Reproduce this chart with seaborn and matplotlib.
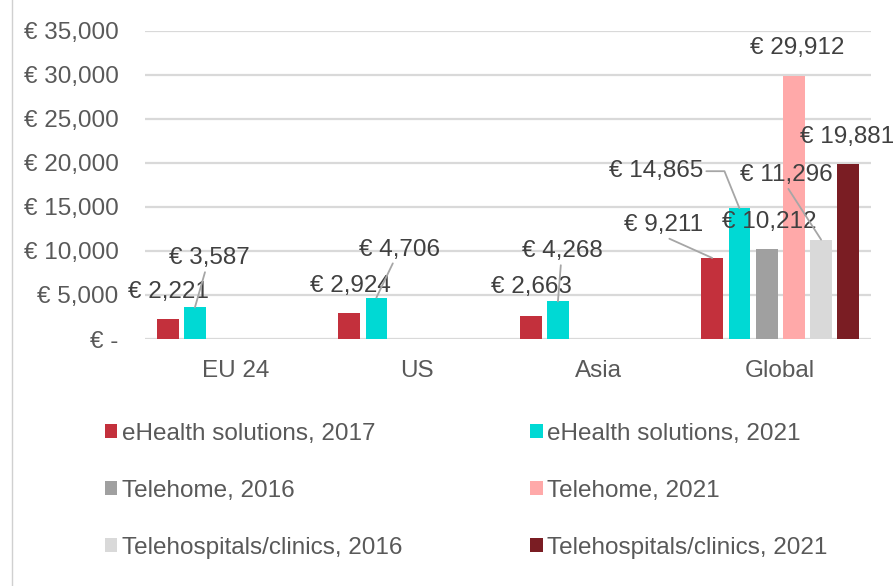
import pandas as pd
import seaborn as sns
import matplotlib.pyplot as plt
from matplotlib.ticker import FuncFormatter
from matplotlib.lines import Line2D

plt.rcParams['font.family'] = ['Liberation Sans', 'DejaVu Sans']

regions = ['EU 24', 'US', 'Asia', 'Global']
series = ['eHealth solutions, 2017', 'eHealth solutions, 2021', 'Telehome, 2016',
          'Telehome, 2021', 'Telehospitals/clinics, 2016', 'Telehospitals/clinics, 2021']
ehealth_2017 = [2221, 2924, 2663, 9211]
ehealth_2021 = [3587, 4706, 4268, 14865]
telehome_2016 = [None, None, None, 10212]
telehome_2021 = [None, None, None, 29912]
telehosp_2016 = [None, None, None, 11296]
telehosp_2021 = [None, None, None, 19881]
colors = ['#c3303c', '#00d9d4', '#a0a0a0', '#ffa9a9', '#d9d9d9', '#7a1d23']

values = [ehealth_2017, ehealth_2021, telehome_2016, telehome_2021, telehosp_2016, telehosp_2021]
rows = []
for s, vals in zip(series, values):
    for r, v in zip(regions, vals):
        if v is not None:
            rows.append({'region': r, 'series': s, 'value': v})
df = pd.DataFrame(rows)

# label placement: (dx, dy) in pixels from bar top, leader style, start point on text box
label_pos = {
    (0, 0): (1, 27, None, None), (1, 0): (14, 49, 'line', (0.5, 0.5)),
    (0, 1): (1.5, 27, None, None), (1, 1): (23, 48, 'line', (0.5, 0.5)),
    (0, 2): (1, 29, None, None), (1, 2): (4, 50, 'line', (0.5, 0.5)),
    (0, 3): (-49, 33, 'line', (0.5, 0)), (1, 3): (-83, 37, 'elbow', (1, 0.5)),
    (2, 3): (2.5, 27.5, None, None), (3, 3): (3, 28, None, None),
    (4, 3): (-34.5, 64.5, 'line', (0.5, 0)), (5, 3): (-1.5, 27.5, None, None),
}

fig = plt.figure(figsize=(8.94, 5.86), dpi=100)
ax = fig.add_axes([145 / 894, 1 - 339 / 586, 726 / 894, 308 / 586])

sns.barplot(data=df, x='region', y='value', hue='series', order=regions, hue_order=series,
            palette=colors, saturation=1, width=0.9, gap=0.2, errorbar=None, ax=ax)

ax.set_xlim(-0.5, 3.5)
ax.set_ylim(0, 35000)
ax.set_yticks(range(0, 35001, 5000))
ax.yaxis.set_major_formatter(FuncFormatter(lambda v, p: '€ -' if v == 0 else f'€ {v:,.0f}'))
ax.set_xlabel('')
ax.set_ylabel('')
for sp in ax.spines.values():
    sp.set_visible(False)
ax.grid(axis='y', color='#d9d9d9', linewidth=1.6)
ax.set_axisbelow(True)
ax.tick_params(axis='y', length=0, pad=19, labelsize=17.5, labelcolor='#595959')
ax.tick_params(axis='x', length=0, pad=15, labelsize=17.5, labelcolor='#595959')

for si, cont in enumerate(ax.containers):
    for bar in cont:
        h = bar.get_height()
        if pd.isna(h) or h == 0:
            continue
        xc = bar.get_x() + bar.get_width() / 2
        ri = int(round(xc))
        dx, dy, kind, rel = label_pos[(si, ri)]
        arrow = None
        if kind == 'line':
            arrow = dict(arrowstyle='-', color='#a6a6a6', lw=1.3, shrinkA=0, shrinkB=0, relpos=rel)
        elif kind == 'elbow':
            arrow = dict(arrowstyle='-', color='#a6a6a6', lw=1.3, shrinkA=0, shrinkB=0, relpos=rel,
                         connectionstyle='angle,angleA=0,angleB=112,rad=0')
        ax.annotate(f'€ {h:,.0f}', (xc, h), xytext=(dx, dy), textcoords='offset pixels',
                    ha='center', va='center', fontsize=17.5, color='#404040',
                    arrowprops=arrow, annotation_clip=False)

handles, labels = ax.get_legend_handles_labels()
ax.get_legend().remove()
order = [0, 2, 4, 1, 3, 5]
fig.legend([handles[i] for i in order], [labels[i] for i in order], ncol=2,
           loc='upper left', bbox_to_anchor=(105 / 894, 1 - 423 / 586), frameon=False,
           fontsize=17.5, labelcolor='#595959', handlelength=0.5, handleheight=0.5,
           handletextpad=0.2, columnspacing=5.27, labelspacing=1.43, borderpad=0,
           borderaxespad=0)

fig.add_artist(Line2D([12 / 894, 12 / 894], [0, 1], color='#d0d0d0', linewidth=1))

fig.savefig('out.png', dpi=100)
